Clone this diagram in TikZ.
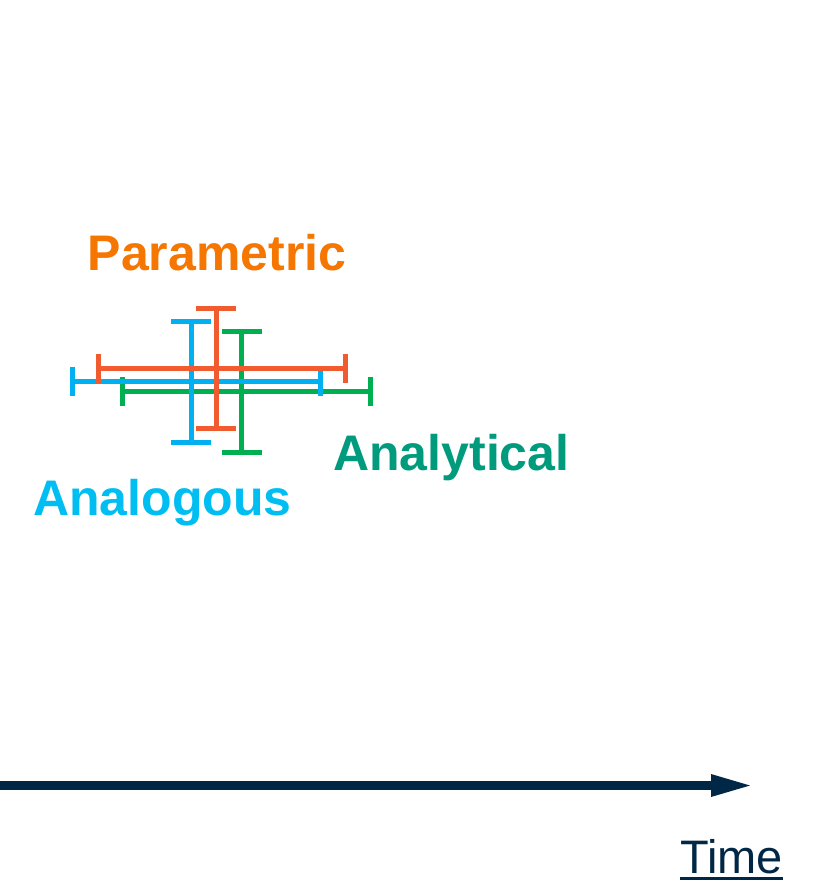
\documentclass[tikz,border=0pt]{standalone}
\usepackage{fontspec}
\setmainfont{Liberation Sans}
\usetikzlibrary{arrows.meta}
\usepackage{xcolor}

\definecolor{partext}{RGB}{245,118,0}
\definecolor{anltext}{RGB}{0,155,125}
\definecolor{angtext}{RGB}{0,190,242}
\definecolor{parbar}{RGB}{240,92,48}
\definecolor{angbar}{RGB}{0,176,240}
\definecolor{anlbar}{RGB}{0,176,80}
\definecolor{axisnavy}{RGB}{0,40,70}

\newcommand{\thickul}[1]{\vtop{\hbox{#1}\kern4pt\hrule height 3pt}}

\begin{document}
\begin{tikzpicture}[x=1pt, y=-1pt,
    errbar/.style={draw=#1, line width=5pt},
    hbar/.style={errbar=#1, {Bar[width=29pt]}-{Bar[width=29pt]}},
    vbar/.style={errbar=#1, {Bar[width=40pt]}-{Bar[width=40pt]}},
    method/.style={text=#1, font=\fontsize{50}{60}\selectfont\bfseries,
                   anchor=base west, inner sep=0pt}]

  \useasboundingbox (0,0) rectangle (817,883);

  %% Error bar ends
  \coordinate (anl-l) at (120.3,391);   \coordinate (anl-r) at (373.3,391);
  \coordinate (anl-t) at (241.7,329);   \coordinate (anl-b) at (241.7,454.7);
  \coordinate (ang-l) at (70,381.5);    \coordinate (ang-r) at (323,381.5);
  \coordinate (ang-t) at (191,319);     \coordinate (ang-b) at (191,445);
  \coordinate (par-l) at (95.7,368.8);  \coordinate (par-r) at (348,368.8);
  \coordinate (par-t) at (216.2,305.7); \coordinate (par-b) at (216.2,431.3);

  %% Error bars
  \draw[hbar=anlbar] (anl-l) -- (anl-r);
  \draw[vbar=anlbar] (anl-t) -- (anl-b);
  \draw[hbar=angbar] (ang-l) -- (ang-r);
  \draw[vbar=angbar] (ang-t) -- (ang-b);
  \draw[hbar=parbar] (par-l) -- (par-r);
  \draw[vbar=parbar] (par-t) -- (par-b);

  %% Method labels
  \node[method=partext] (param)  at (87.5,270) {Parametric};
  \node[method=anltext] (analyt) at (333,470)  {Analytical};
  \node[method=angtext] (analog) at (33,515)   {Analogous};

  %% Time axis
  \coordinate (ax0) at (0,785.5);
  \coordinate (ax1) at (750,785.5);
  \draw[axisnavy, line width=9pt,
        -{Triangle[length=39pt, width=23pt, line width=0pt]}] (ax0) -- (ax1);
  \node[text=axisnavy, font=\fontsize{47}{56}\selectfont,
        anchor=base west, inner sep=0pt] (time) at (680,873) {\thickul{Time}};
\end{tikzpicture}
\end{document}
